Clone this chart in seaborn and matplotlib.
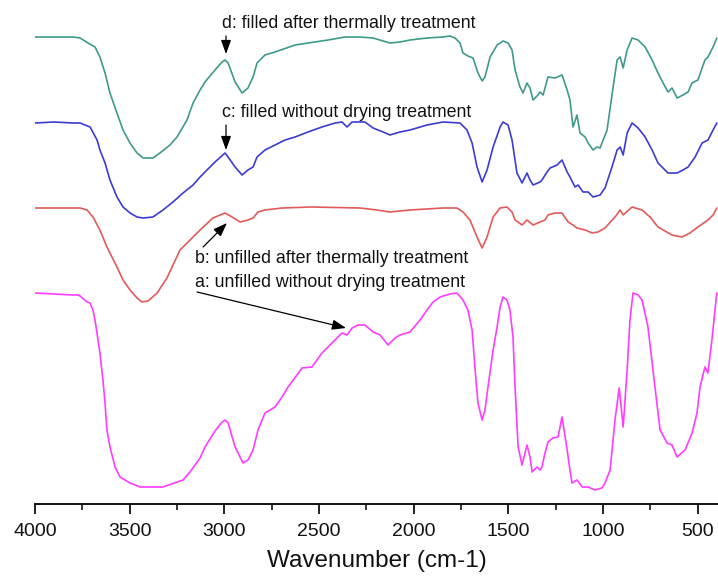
import numpy as np
import pandas as pd
import matplotlib
matplotlib.use("Agg")
import matplotlib.pyplot as plt
from matplotlib.ticker import MultipleLocator
import seaborn as sns

# ---- data (wavenumber in cm-1, curve height, offset units) ----
wn_d = [4000, 3799, 3762, 3720, 3683, 3657, 3630, 3604, 3567, 3535, 3498, 3461, 3429, 3377, 3340,
        3287, 3250, 3197, 3165, 3128, 3102, 3049, 3012, 2996, 2980, 2943, 2906, 2875, 2848, 2827,
        2785, 2732, 2626, 2452, 2362, 2283, 2214, 2161, 2125, 2072, 2019, 1929, 1845, 1808, 1781,
        1755, 1739, 1713, 1686, 1660, 1638, 1623, 1596, 1559, 1528, 1501, 1480, 1464, 1438, 1422,
        1401, 1385, 1369, 1343, 1332, 1316, 1290, 1253, 1216, 1189, 1174, 1158, 1137, 1121, 1094,
        1078, 1052, 1031, 1015, 978, 946, 925, 909, 893, 872, 846, 814, 777, 740, 709,
        682, 656, 635, 608, 577, 550, 529, 498, 461, 445, 418, 398]
px_d = [37, 37, 38, 43, 47, 57, 73, 93, 113, 130, 143, 153, 158, 158, 153,
        145, 137, 120, 103, 90, 82, 70, 62, 60, 63, 82, 93, 88, 77, 63,
        55, 52, 45, 40, 37, 37, 38, 41, 43, 42, 40, 38, 37, 36, 38,
        43, 53, 56, 58, 73, 81, 77, 57, 45, 41, 43, 50, 70, 87, 93,
        83, 88, 100, 95, 92, 95, 77, 78, 75, 90, 100, 127, 115, 133, 137,
        143, 150, 147, 148, 130, 87, 60, 57, 68, 50, 38, 40, 47, 60, 73,
        83, 92, 88, 98, 95, 92, 83, 80, 60, 57, 47, 38]

wn_c = [4000, 3900, 3799, 3762, 3736, 3709, 3672, 3657, 3630, 3604, 3567, 3535, 3498, 3461, 3429,
        3377, 3324, 3271, 3218, 3165, 3128, 3102, 3049, 2996, 2980, 2943, 2906, 2875, 2848, 2827,
        2785, 2732, 2679, 2626, 2558, 2484, 2415, 2378, 2352, 2325, 2257, 2214, 2161, 2125, 2072,
        2019, 1929, 1845, 1755, 1718, 1691, 1665, 1638, 1612, 1580, 1543, 1528, 1501, 1480, 1454,
        1427, 1401, 1385, 1369, 1332, 1322, 1295, 1279, 1242, 1216, 1189, 1174, 1147, 1131, 1105,
        1078, 1052, 1015, 989, 952, 925, 909, 893, 872, 846, 814, 777, 740, 709, 672,
        656, 608, 577, 550, 513, 476, 445, 418, 398]
px_c = [123, 122, 123, 123, 125, 127, 140, 150, 163, 180, 197, 207, 213, 217, 218,
        217, 210, 202, 193, 185, 177, 172, 162, 153, 157, 167, 175, 170, 167, 157,
        150, 145, 140, 137, 132, 127, 123, 122, 127, 122, 122, 128, 132, 135, 132,
        130, 125, 122, 123, 130, 143, 167, 182, 170, 147, 127, 122, 125, 140, 173,
        183, 173, 180, 185, 182, 180, 172, 168, 165, 160, 172, 177, 187, 185, 192,
        192, 197, 195, 188, 167, 150, 147, 155, 133, 123, 128, 137, 150, 163, 170,
        173, 173, 170, 167, 157, 143, 140, 130, 123]

wn_b = [4000, 3799, 3762, 3725, 3694, 3657, 3620, 3567, 3535, 3498, 3461, 3435, 3403, 3355, 3303,
        3234, 3181, 3128, 3060, 2996, 2959, 2917, 2875, 2848, 2822, 2785, 2695, 2537, 2283, 2193,
        2125, 2019, 1845, 1771, 1739, 1702, 1665, 1638, 1612, 1580, 1543, 1507, 1480, 1464, 1427,
        1401, 1369, 1332, 1306, 1290, 1253, 1216, 1184, 1158, 1137, 1094, 1057, 1026, 989, 936,
        909, 893, 846, 793, 751, 709, 635, 582, 540, 498, 445, 418, 398]
px_b = [208, 208, 208, 210, 217, 230, 247, 267, 280, 290, 298, 302, 301, 293, 278,
        250, 240, 230, 218, 213, 217, 222, 220, 218, 212, 210, 208, 207, 208, 210,
        212, 210, 208, 208, 212, 220, 237, 248, 237, 217, 208, 207, 212, 220, 225,
        220, 225, 222, 220, 215, 213, 213, 222, 225, 228, 230, 233, 232, 228, 217,
        210, 215, 207, 210, 217, 227, 235, 237, 233, 227, 220, 215, 208]

wn_a = [4000, 3900, 3800, 3773, 3762, 3725, 3709, 3694, 3683, 3667, 3657, 3641, 3630, 3620, 3604,
        3577, 3551, 3498, 3445, 3324, 3218, 3181, 3128, 3102, 3049, 3012, 2996, 2980, 2943, 2901,
        2875, 2848, 2822, 2785, 2732, 2695, 2663, 2589, 2537, 2484, 2452, 2378, 2352, 2325, 2294,
        2257, 2214, 2177, 2135, 2098, 2072, 2019, 1966, 1929, 1897, 1860, 1808, 1771, 1739, 1713,
        1691, 1675, 1660, 1638, 1623, 1607, 1580, 1559, 1543, 1528, 1507, 1491, 1475, 1464, 1448,
        1427, 1401, 1385, 1374, 1348, 1332, 1322, 1306, 1290, 1264, 1237, 1216, 1205, 1189, 1174,
        1163, 1137, 1110, 1078, 1042, 1005, 989, 962, 936, 914, 893, 872, 857, 841, 814,
        793, 762, 725, 698, 661, 635, 608, 566, 529, 503, 487, 461, 445, 424, 408, 398]
px_a = [293, 294, 295, 295, 296, 302, 303, 310, 320, 340, 353, 380, 403, 430, 447,
        467, 477, 483, 487, 487, 480, 472, 458, 447, 431, 422, 420, 423, 447, 463,
        460, 450, 430, 413, 407, 397, 387, 368, 367, 353, 347, 333, 335, 328, 325,
        325, 332, 335, 345, 338, 335, 332, 320, 310, 302, 297, 294, 293, 300, 310,
        330, 370, 403, 420, 410, 387, 350, 327, 307, 297, 300, 310, 337, 387, 447,
        465, 445, 457, 472, 467, 470, 467, 453, 442, 438, 437, 417, 430, 450, 470,
        483, 480, 487, 487, 490, 488, 483, 470, 420, 388, 427, 370, 320, 293, 295,
        300, 327, 387, 430, 443, 445, 457, 450, 433, 413, 387, 367, 373, 340, 310, 293]

labels = ["a: unfilled without drying treatment",
          "b: unfilled after thermally treatment",
          "c: filled without drying treatment",
          "d: filled after thermally treatment"]
colors = {"a": "#ff3cff", "b": "#e25a5a", "c": "#3c3cd2", "d": "#3f9a8c"}
xticks = [4000, 3500, 3000, 2500, 2000, 1500, 1000, 500]

BASE = 504  # vertical reference for the offset units


def frame(key, wn, px):
    return pd.DataFrame({"wavenumber": wn, "T": [BASE - p for p in px], "curve": key})


df = pd.concat([frame("d", wn_d, px_d), frame("c", wn_c, px_c),
                frame("b", wn_b, px_b), frame("a", wn_a, px_a)], ignore_index=True)

sns.set_style("white")
plt.rcParams["font.family"] = ["Liberation Sans", "DejaVu Sans"]

fig = plt.figure(figsize=(7.18, 5.78), dpi=100)
ax = fig.add_axes([35 / 718, 1 - 504 / 578, (718 - 35) / 718, 504 / 578])

for key in ["d", "c", "b", "a"]:
    sub = df[df["curve"] == key]
    sns.lineplot(data=sub, x="wavenumber", y="T", ax=ax, color=colors[key],
                 lw=1.2, estimator=None, sort=True, legend=False)
for ln in ax.lines:
    ln.set_solid_joinstyle("round")

ax.set_xlim(4000, 392)
ax.set_ylim(0, BASE)
ax.set_yticks([])
ax.set_ylabel("")
ax.set_xticks(xticks)
ax.xaxis.set_minor_locator(MultipleLocator(250))
ax.tick_params(axis="x", which="major", direction="out", length=7, width=1.3,
               labelsize=14, pad=7, bottom=True, colors="#111111")
ax.tick_params(axis="x", which="minor", direction="out", length=4, width=1.3, bottom=True)
for s in ["top", "right", "left"]:
    ax.spines[s].set_visible(False)
ax.spines["bottom"].set_linewidth(1.4)
ax.spines["bottom"].set_color("#111111")
ax.set_xlabel("Wavenumber (cm-1)", fontsize=17.5, labelpad=7, color="#111111")

arrow = dict(arrowstyle="-|>,head_length=0.6,head_width=0.22", color="black", lw=0.9,
             shrinkA=0, shrinkB=0, mutation_scale=14)
fs = 12.8
ax.text(3012, BASE - 28, labels[3], fontsize=fs, va="baseline", ha="left", color="#111111")
ax.annotate("", xy=(2991, BASE - 54), xytext=(2991, BASE - 36), arrowprops=arrow)
ax.text(3012, BASE - 117, labels[2], fontsize=fs, va="baseline", ha="left", color="#111111")
ax.annotate("", xy=(2991, BASE - 150), xytext=(2991, BASE - 125), arrowprops=arrow)
ax.text(3155, BASE - 263, labels[1], fontsize=fs, va="baseline", ha="left", color="#111111")
ax.annotate("", xy=(2986, BASE - 223), xytext=(3112, BASE - 247), arrowprops=arrow)
ax.text(3155, BASE - 287, labels[0], fontsize=fs, va="baseline", ha="left", color="#111111")
ax.annotate("", xy=(2357, BASE - 328), xytext=(3144, BASE - 292), arrowprops=arrow)

fig.savefig("out.png", dpi=100)
